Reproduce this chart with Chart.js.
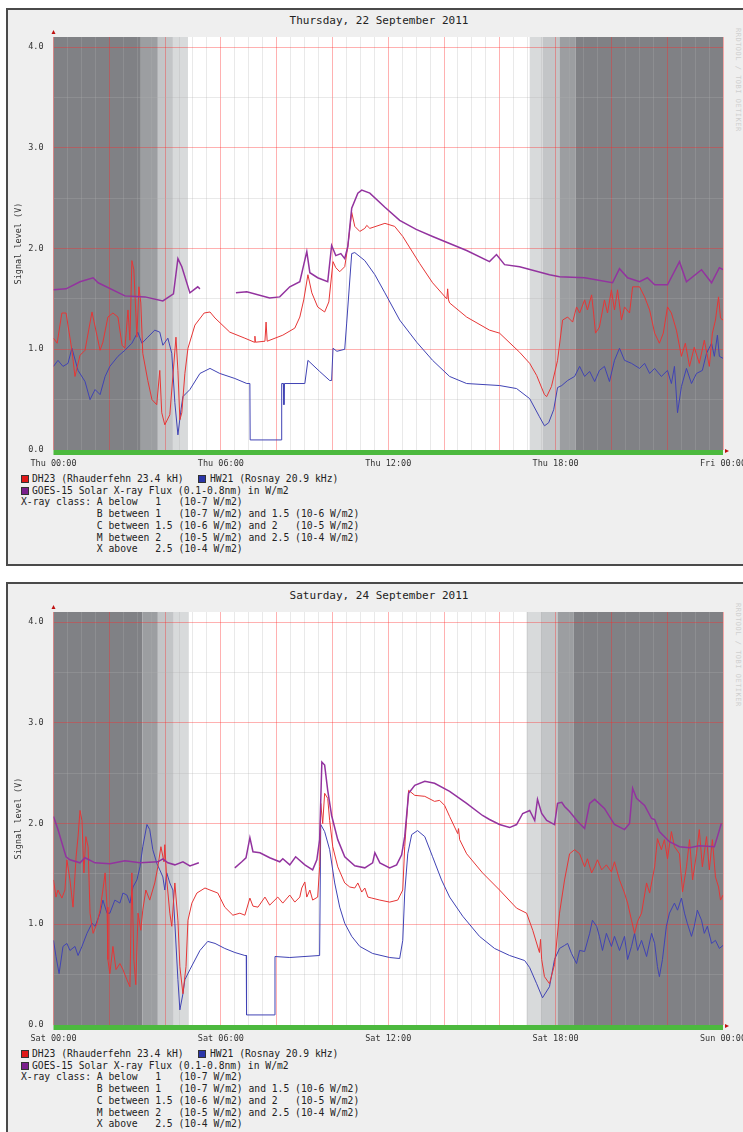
<!DOCTYPE html>
<html><head><meta charset="utf-8">
<script src="https://cdn.jsdelivr.net/npm/chart.js@4"></script>
<style>
html,body{margin:0;padding:0;background:#fff;width:743px;height:1132px;overflow:hidden;position:relative;font-family:'DejaVu Sans Mono',monospace;}
.frame{position:absolute;left:6px;width:800px;height:558px;background:#efefef;border:2px solid #4a4a4a;box-sizing:border-box;}
.title{position:absolute;left:0;width:758px;text-align:center;font-size:11px;line-height:14px;color:#222;}
canvas{position:absolute;left:0;}
.lg{position:absolute;font-size:9.7px;line-height:12px;white-space:pre;color:#222;}
.sw{position:absolute;width:6px;height:6px;border:1px solid #333;}
.rrd{position:absolute;left:734px;writing-mode:vertical-rl;font-size:7px;color:#cfcfcf;letter-spacing:0.5px;}
</style></head>
<body>
<script>
// ---------- DATA ----------
const xTickHours = [0, 6, 12, 18, 24];
const thuXLabels = ['Thu 00:00', 'Thu 06:00', 'Thu 12:00', 'Thu 18:00', 'Fri 00:00'];
const satXLabels = ['Sat 00:00', 'Sat 06:00', 'Sat 12:00', 'Sat 18:00', 'Sun 00:00'];
const yTickLabels = ['0.0', '1.0', '2.0', '3.0', '4.0'];
const titles = ['Thursday, 22 September 2011', 'Saturday, 24 September 2011'];
const seriesNames = ['DH23 (Rhauderfehn 23.4 kH)', 'HW21 (Rosnay 20.9 kHz)', 'GOES-15 Solar X-ray Flux (0.1-0.8nm) in W/m2'];
const xrayLines = [
  'X-ray class: A below   1   (10-7 W/m2)',
  '             B between 1   (10-7 W/m2) and 1.5 (10-6 W/m2)',
  '             C between 1.5 (10-6 W/m2) and 2   (10-5 W/m2)',
  '             M between 2   (10-5 W/m2) and 2.5 (10-4 W/m2)',
  '             X above   2.5 (10-4 W/m2)'
];
// night / twilight band edges (hours)
const thuBandEdges = [0, 3.13, 3.74, 4.28, 4.82, 17.07, 17.53, 18.14, 18.72, 24];
const satBandEdges = [0, 3.19, 3.74, 4.31, 4.85, 16.96, 17.46, 18.07, 18.64, 24];

// [hour, volts]
const thuRed = [[0,1.11],[0.13,1.06],[0.30,1.36],[0.45,1.36],[0.66,0.99],[0.77,0.73],[0.95,0.94],[1.13,0.99],[1.38,1.37],[1.67,0.99],[1.77,1.07],[1.95,1.32],[2.13,1.36],[2.31,1.32],[2.46,1.04],[2.56,1.01],[2.67,1.39],[2.74,1.09],[2.81,1.88],[2.88,1.79],[2.99,1.12],[3.06,1.62],[3.13,1.46],[3.20,0.96],[3.38,0.69],[3.53,0.50],[3.70,0.45],[3.81,0.79],[3.88,0.37],[3.99,0.25],[4.17,0.35],[4.39,1.12],[4.46,0.79],[4.53,0.30],[4.60,0.37],[4.71,0.76],[4.82,1.01],[5.07,1.24],[5.40,1.36],[5.61,1.37],[5.79,1.31],[6.32,1.17],[6.86,1.11],[7.20,1.07],[7.22,1.13],[7.24,1.07],[7.58,1.08],[7.62,1.27],[7.66,1.08],[8.22,1.14],[8.65,1.21],[8.83,1.32],[8.97,1.49],[9.12,1.74],[9.26,1.56],[9.47,1.42],[9.72,1.37],[9.87,1.47],[10.02,1.87],[10.12,1.81],[10.26,1.77],[10.44,1.82],[10.55,2.02],[10.69,2.36],[10.80,2.22],[10.98,2.17],[11.16,2.20],[11.23,2.23],[11.34,2.20],[11.88,2.25],[12.23,2.22],[12.52,2.12],[13.13,1.85],[13.59,1.66],[14.10,1.50],[14.13,1.60],[14.16,1.49],[14.20,1.46],[14.81,1.32],[15.63,1.19],[15.99,1.16],[16.71,0.97],[17.07,0.86],[17.32,0.74],[17.60,0.55],[17.68,0.53],[17.85,0.63],[18.07,0.89],[18.25,1.29],[18.43,1.32],[18.61,1.27],[18.75,1.42],[18.86,1.36],[19.04,1.49],[19.14,1.39],[19.29,1.54],[19.36,1.36],[19.43,1.16],[19.57,1.22],[19.75,1.49],[19.86,1.36],[20.00,1.59],[20.11,1.39],[20.22,1.59],[20.36,1.29],[20.47,1.42],[20.65,1.36],[20.76,1.62],[21.01,1.62],[21.19,1.52],[21.37,1.39],[21.55,1.16],[21.72,1.06],[21.86,1.16],[22.01,1.42],[22.15,1.36],[22.33,1.19],[22.51,0.93],[22.65,1.06],[22.80,0.83],[22.97,1.02],[23.15,0.86],[23.33,1.09],[23.51,0.83],[23.62,1.16],[23.73,1.29],[23.84,1.52],[23.91,1.31],[24,1.29]];
const thuBlue = [[0,0.83],[0.16,0.89],[0.34,0.83],[0.52,0.86],[0.66,1.01],[0.88,0.79],[1.13,0.68],[1.31,0.50],[1.49,0.60],[1.67,0.55],[1.85,0.73],[2.02,0.83],[2.31,0.93],[2.56,0.99],[2.81,1.06],[3.02,1.17],[3.17,1.06],[3.38,1.12],[3.63,1.19],[3.81,1.17],[3.92,1.04],[4.10,1.11],[4.24,0.96],[4.35,0.47],[4.46,0.15],[4.57,0.40],[4.64,0.53],[4.89,0.60],[5.25,0.76],[5.61,0.81],[5.96,0.76],[6.50,0.71],[6.93,0.66],[7.04,0.66],[7.05,0.10],[8.17,0.10],[8.18,0.66],[8.24,0.66],[8.26,0.45],[8.28,0.66],[9.01,0.66],[9.12,0.89],[9.54,0.78],[9.90,0.69],[9.97,0.69],[10.02,1.01],[10.16,0.98],[10.44,1.00],[10.51,1.26],[10.69,1.95],[10.80,1.96],[11.16,1.88],[11.52,1.74],[11.88,1.56],[12.41,1.29],[13.02,1.07],[13.59,0.89],[14.20,0.73],[14.81,0.66],[15.99,0.64],[16.60,0.61],[17.07,0.51],[17.42,0.33],[17.60,0.24],[17.75,0.27],[17.93,0.40],[18.07,0.62],[18.22,0.64],[18.43,0.69],[18.68,0.73],[18.86,0.83],[19.04,0.73],[19.22,0.78],[19.40,0.68],[19.57,0.79],[19.75,0.83],[19.93,0.68],[20.11,0.89],[20.29,1.01],[20.47,0.89],[20.72,0.86],[21.01,0.81],[21.19,0.86],[21.37,0.76],[21.55,0.81],[21.79,0.73],[22.01,0.79],[22.15,0.66],[22.26,0.83],[22.37,0.37],[22.51,0.63],[22.69,0.81],[22.87,0.66],[23.05,0.76],[23.26,0.79],[23.41,0.96],[23.59,1.06],[23.69,0.93],[23.80,1.14],[23.87,0.93],[24,0.91]];
const thuPurple = [[0,1.59],[0.45,1.60],[0.95,1.67],[1.42,1.71],[1.60,1.66],[2.56,1.53],[3.28,1.52],[3.92,1.48],[4.30,1.55],[4.46,1.90],[4.60,1.82],[4.89,1.56],[5.17,1.62],[5.25,1.60],[5.9,null],[6.54,1.56],[6.93,1.57],[7.75,1.51],[8.11,1.52],[8.47,1.62],[8.83,1.67],[9.08,1.97],[9.19,1.76],[9.47,1.71],[9.83,1.67],[9.97,2.03],[10.12,1.93],[10.30,1.95],[10.44,1.90],[10.55,2.02],[10.69,2.40],[10.91,2.55],[11.05,2.58],[11.34,2.55],[11.88,2.41],[12.41,2.28],[13.00,2.19],[13.59,2.12],[14.20,2.05],[14.81,1.98],[15.63,1.87],[15.88,1.94],[16.17,1.84],[16.71,1.82],[17.78,1.74],[18.14,1.72],[19.04,1.71],[20.04,1.66],[20.29,1.80],[20.58,1.71],[21.01,1.67],[21.29,1.71],[21.55,1.64],[22.01,1.64],[22.44,1.87],[22.69,1.67],[23.23,1.79],[23.59,1.66],[23.87,1.81],[24,1.79]];

const satRed = [[0,1.44],[0.09,1.27],[0.16,1.34],[0.30,1.26],[0.41,1.34],[0.48,1.64],[0.59,1.44],[0.70,1.17],[0.81,1.67],[0.88,1.87],[0.95,2.13],[1.02,2.03],[1.09,1.51],[1.16,1.87],[1.24,1.77],[1.31,1.11],[1.42,0.91],[1.56,1.01],[1.67,1.14],[1.77,1.34],[1.85,1.51],[1.92,1.17],[1.95,0.65],[2.02,0.51],[2.13,0.78],[2.24,0.55],[2.38,0.61],[2.49,0.55],[2.63,0.45],[2.74,0.38],[2.81,1.51],[2.88,0.65],[2.95,0.40],[3.03,1.11],[3.13,0.94],[3.20,1.14],[3.31,1.34],[3.45,1.24],[3.63,1.41],[3.74,1.57],[3.85,1.77],[3.96,1.62],[3.99,1.79],[4.06,1.44],[4.17,1.11],[4.24,0.98],[4.35,1.41],[4.46,1.04],[4.53,0.58],[4.64,0.31],[4.75,0.58],[4.82,1.04],[4.96,1.21],[5.14,1.31],[5.43,1.36],[5.61,1.34],[5.89,1.31],[6.14,1.17],[6.43,1.09],[6.68,1.11],[6.86,1.09],[7.04,1.26],[7.15,1.18],[7.33,1.17],[7.58,1.27],[7.75,1.19],[8.04,1.27],[8.22,1.21],[8.47,1.29],[8.65,1.22],[8.83,1.27],[8.90,1.36],[9.01,1.42],[9.08,1.27],[9.19,1.34],[9.29,1.24],[9.47,1.27],[9.54,1.57],[9.58,2.20],[9.65,2.00],[9.72,2.30],[9.83,2.25],[9.90,2.03],[10.01,1.77],[10.19,1.57],[10.44,1.41],[10.62,1.37],[10.80,1.36],[10.91,1.41],[11.05,1.32],[11.16,1.36],[11.27,1.27],[11.41,1.26],[11.70,1.24],[12.05,1.22],[12.34,1.24],[12.52,1.34],[12.59,1.77],[12.73,2.33],[12.95,2.28],[13.31,2.27],[13.66,2.22],[13.84,2.23],[14.02,2.18],[14.20,2.07],[14.49,1.90],[14.52,1.95],[14.56,1.84],[14.81,1.70],[15.38,1.51],[15.99,1.34],[16.60,1.16],[16.96,1.11],[17.18,0.94],[17.42,0.72],[17.46,0.85],[17.50,0.65],[17.60,0.48],[17.78,0.41],[17.96,0.60],[18.14,1.11],[18.32,1.44],[18.50,1.70],[18.68,1.74],[18.86,1.70],[19.04,1.57],[19.14,1.65],[19.29,1.51],[19.40,1.57],[19.50,1.64],[19.65,1.54],[19.82,1.59],[20.00,1.52],[20.11,1.62],[20.29,1.44],[20.47,1.31],[20.58,1.21],[20.72,1.04],[20.83,0.91],[20.94,1.03],[21.08,1.11],[21.26,1.41],[21.37,1.31],[21.55,1.57],[21.65,1.85],[21.79,1.74],[21.90,1.84],[22.01,1.65],[22.15,1.92],[22.26,1.77],[22.44,1.70],[22.55,1.32],[22.69,1.57],[22.80,1.84],[22.91,1.44],[23.05,1.70],[23.15,1.94],[23.26,1.57],[23.41,1.87],[23.51,1.54],[23.62,1.84],[23.73,1.47],[23.84,1.37],[23.91,1.24],[24,1.29]];
const satBlue = [[0,0.84],[0.09,0.68],[0.20,0.51],[0.34,0.78],[0.48,0.81],[0.59,0.74],[0.77,0.78],[0.88,0.69],[1.02,0.78],[1.20,0.91],[1.38,1.01],[1.49,0.98],[1.67,1.11],[1.77,1.24],[1.92,1.11],[2.02,1.11],[2.20,1.24],[2.38,1.21],[2.49,1.31],[2.63,1.29],[2.74,1.21],[2.85,1.37],[2.99,1.44],[3.10,1.57],[3.20,1.77],[3.35,1.99],[3.45,1.94],[3.56,1.74],[3.71,1.60],[3.81,1.54],[3.92,1.47],[3.99,1.34],[4.06,1.51],[4.17,1.41],[4.28,1.34],[4.35,1.01],[4.46,0.45],[4.53,0.15],[4.64,0.31],[4.71,0.45],[4.89,0.55],[5.25,0.74],[5.53,0.83],[5.79,0.81],[6.14,0.76],[6.50,0.72],[6.86,0.69],[6.91,0.69],[6.92,0.10],[7.93,0.10],[7.94,0.68],[8.47,0.67],[9.54,0.69],[9.58,1.99],[9.72,1.92],[9.90,1.74],[10.08,1.41],[10.26,1.17],[10.44,1.01],[10.69,0.88],[10.98,0.78],[11.44,0.71],[12.05,0.67],[12.41,0.66],[12.52,0.84],[12.59,1.31],[12.70,1.70],[12.84,1.89],[13.05,1.93],[13.31,1.87],[13.59,1.67],[13.91,1.44],[14.20,1.27],[14.67,1.08],[15.27,0.88],[15.81,0.76],[16.35,0.69],[16.89,0.64],[17.07,0.57],[17.32,0.41],[17.53,0.27],[17.78,0.38],[17.96,0.65],[18.14,0.76],[18.32,0.79],[18.43,0.81],[18.57,0.71],[18.75,0.61],[18.86,0.74],[19.04,0.73],[19.22,0.91],[19.32,1.04],[19.47,0.98],[19.57,0.88],[19.68,0.74],[19.82,0.91],[20.00,0.78],[20.11,0.88],[20.29,0.74],[20.47,0.88],[20.58,0.65],[20.72,0.78],[20.83,0.91],[20.94,0.74],[21.08,0.84],[21.26,0.68],[21.44,0.91],[21.55,0.81],[21.65,0.58],[21.72,0.48],[21.83,0.65],[21.97,0.98],[22.08,1.11],[22.26,1.21],[22.37,1.14],[22.51,1.26],[22.62,1.11],[22.72,1.01],[22.87,0.88],[22.97,0.98],[23.08,1.14],[23.23,1.04],[23.33,0.91],[23.44,0.98],[23.59,0.81],[23.73,0.84],[23.87,0.76],[24,0.79]];
const satPurple = [[0,2.07],[0.16,1.94],[0.30,1.81],[0.45,1.67],[0.59,1.64],[0.95,1.61],[1.13,1.66],[1.49,1.61],[2.02,1.60],[2.56,1.63],[3.10,1.61],[3.74,1.62],[3.92,1.65],[4.10,1.61],[4.35,1.59],[4.64,1.62],[4.89,1.58],[5.21,1.61],[5.9,null],[6.50,1.56],[6.75,1.62],[6.90,1.66],[7.04,1.86],[7.15,1.72],[7.40,1.71],[7.75,1.66],[8.11,1.62],[8.22,1.65],[8.47,1.59],[8.68,1.67],[9.01,1.59],[9.29,1.54],[9.44,1.64],[9.54,1.84],[9.62,2.61],[9.72,2.58],[9.83,2.33],[9.97,2.08],[10.19,1.84],[10.44,1.67],[10.80,1.58],[11.16,1.56],[11.44,1.61],[11.52,1.71],[11.70,1.61],[12.05,1.56],[12.30,1.59],[12.48,1.69],[12.59,1.87],[12.73,2.30],[12.95,2.38],[13.31,2.42],[13.66,2.40],[14.20,2.32],[14.81,2.20],[15.38,2.08],[15.63,2.04],[15.99,1.99],[16.35,1.96],[16.60,1.99],[16.82,2.10],[17.07,2.13],[17.25,2.03],[17.35,2.24],[17.50,2.10],[17.68,2.03],[17.96,1.99],[18.07,2.20],[18.22,2.21],[18.32,2.17],[18.50,2.12],[18.79,2.02],[19.04,1.95],[19.22,2.20],[19.40,2.24],[19.75,2.15],[20.11,1.99],[20.47,1.94],[20.65,2.00],[20.76,2.35],[20.90,2.25],[21.19,2.18],[21.44,2.05],[21.55,2.04],[21.72,1.92],[22.08,1.82],[22.44,1.77],[22.80,1.76],[23.15,1.78],[23.69,1.77],[23.80,1.87],[23.94,2.00]];

// ---------- STYLE ----------
const bandShades = ['#808185', '#9c9ea1', '#c3c5c7', '#d8dadb', null, '#d8dadb', '#c3c5c7', '#9c9ea1', '#808185'];
const colRed = '#e63636', colBlue = '#4043b4', colPurple = '#93339f';
const legendCols = ['#e01818', '#2a35a8', '#7a1f8c'];

const panelDefs = [
  {top: 0, frameTop: 8, title: titles[0], xLabels: thuXLabels, red: thuRed, blue: thuBlue, purple: thuPurple, bands: thuBandEdges},
  {top: 575, frameTop: 582, title: titles[1], xLabels: satXLabels, red: satRed, blue: satBlue, purple: satPurple, bands: satBandEdges}
];

const decoPlugin = {
  id: 'deco',
  beforeDraw(chart) {
    const {ctx, chartArea: a, scales: {x}} = chart;
    const edges = chart.options.plugins.deco.edges;
    ctx.save();
    ctx.fillStyle = '#ffffff';
    ctx.fillRect(a.left, a.top, a.right - a.left, a.bottom - a.top);
    for (let i = 0; i < edges.length - 1; i++) {
      const c = bandShades[i];
      if (!c) continue;
      const x0 = x.getPixelForValue(edges[i]), x1 = x.getPixelForValue(edges[i + 1]);
      ctx.fillStyle = c;
      ctx.fillRect(x0, a.top, x1 - x0, a.bottom - a.top);
    }
    ctx.restore();
  },
  afterDatasetsDraw(chart) {
    const {ctx, chartArea: a} = chart;
    ctx.save();
    ctx.fillStyle = '#4cb93e';
    ctx.fillRect(a.left, a.bottom, a.right - a.left, 5);
    ctx.fillStyle = '#c01010';
    ctx.beginPath();
    ctx.moveTo(a.left - 2, a.top - 3); ctx.lineTo(a.left + 2, a.top - 3); ctx.lineTo(a.left, a.top - 7); ctx.closePath(); ctx.fill();
    ctx.beginPath();
    ctx.moveTo(a.right + 2, a.bottom - 1); ctx.lineTo(a.right + 2, a.bottom + 3); ctx.lineTo(a.right + 6, a.bottom + 1); ctx.closePath(); ctx.fill();
    ctx.restore();
  }
};

const tickFont = {family: 'DejaVu Sans Mono', size: 8.5};

function pts(arr) { return arr.map(p => ({x: p[0], y: p[1]})); }

function buildPanel(p) {
  const frame = document.createElement('div');
  frame.className = 'frame';
  frame.style.top = p.frameTop + 'px';
  document.body.appendChild(frame);

  const t = document.createElement('div');
  t.className = 'title';
  t.style.top = (p.top + 14) + 'px';
  t.textContent = p.title;
  document.body.appendChild(t);

  const r = document.createElement('div');
  r.className = 'rrd';
  r.style.top = (p.top + 28) + 'px';
  r.textContent = 'RRDTOOL / TOBI OETIKER';
  document.body.appendChild(r);

  const cv = document.createElement('canvas');
  cv.width = 800; cv.height = 470;
  cv.style.top = p.top + 'px';
  document.body.appendChild(cv);

  // legend
  const rows = [479, 491, 502, 514, 526, 538, 549];
  const addText = (txt, x, cy) => {
    const d = document.createElement('div');
    d.className = 'lg'; d.textContent = txt;
    d.style.left = x + 'px'; d.style.top = (p.top + cy - 6) + 'px';
    document.body.appendChild(d);
  };
  const addSw = (col, x, cy) => {
    const s = document.createElement('div');
    s.className = 'sw'; s.style.background = col;
    s.style.left = x + 'px'; s.style.top = (p.top + cy - 4) + 'px';
    document.body.appendChild(s);
  };
  addSw(legendCols[0], 21, rows[0]); addText(seriesNames[0], 32, rows[0]);
  addSw(legendCols[1], 198, rows[0]); addText(seriesNames[1], 210, rows[0]);
  addSw(legendCols[2], 21, rows[1]); addText(seriesNames[2], 32, rows[1]);
  xrayLines.forEach((l, i) => addText(l, 21, rows[2 + i]));

  new Chart(cv, {
    type: 'line',
    data: {datasets: [
      {label: seriesNames[2], data: pts(p.purple), borderColor: colPurple, borderWidth: 1.5, spanGaps: false},
      {label: seriesNames[0], data: pts(p.red), borderColor: colRed, borderWidth: 1},
      {label: seriesNames[1], data: pts(p.blue), borderColor: colBlue, borderWidth: 1}
    ]},
    options: {
      responsive: false, animation: false, devicePixelRatio: 1,
      layout: {padding: {left: 0, top: 37, right: 77, bottom: 0}},
      elements: {point: {radius: 0}, line: {tension: 0}},
      plugins: {legend: {display: false}, tooltip: {enabled: false}, deco: {edges: p.bands}},
      scales: {
        x: {
          type: 'linear', min: 0, max: 24,
          afterFit(s) { s.height = 20; },
          border: {display: false},
          grid: {drawTicks: false, lineWidth: 1,
            color: c => (c.tick && c.tick.value % 2 === 0) ? 'rgba(255,40,40,0.36)' : 'rgba(175,175,175,0.28)'},
          ticks: {stepSize: 0.5, autoSkip: false, maxRotation: 0, padding: 9, color: '#333', font: tickFont,
            callback: v => { const i = xTickHours.indexOf(v); return i >= 0 ? p.xLabels[i] : ''; }}
        },
        y: {
          min: 0, max: 4.1,
          afterFit(s) { s.width = 53.5; },
          border: {display: false},
          grid: {drawTicks: false, lineWidth: 1,
            color: c => (c.tick && Number.isInteger(c.tick.value)) ? 'rgba(255,40,40,0.36)' : 'rgba(175,175,175,0.28)'},
          ticks: {stepSize: 0.5, includeBounds: false, padding: 10, color: '#333', font: tickFont,
            callback: v => Number.isInteger(v) ? yTickLabels[v] : ''},
          title: {display: true, text: 'Signal level (V)', color: '#333', font: tickFont, padding: {top: 14, bottom: 0}}
        }
      }
    },
    plugins: [decoPlugin]
  });
}

panelDefs.forEach(buildPanel);
</script>
</body></html>
